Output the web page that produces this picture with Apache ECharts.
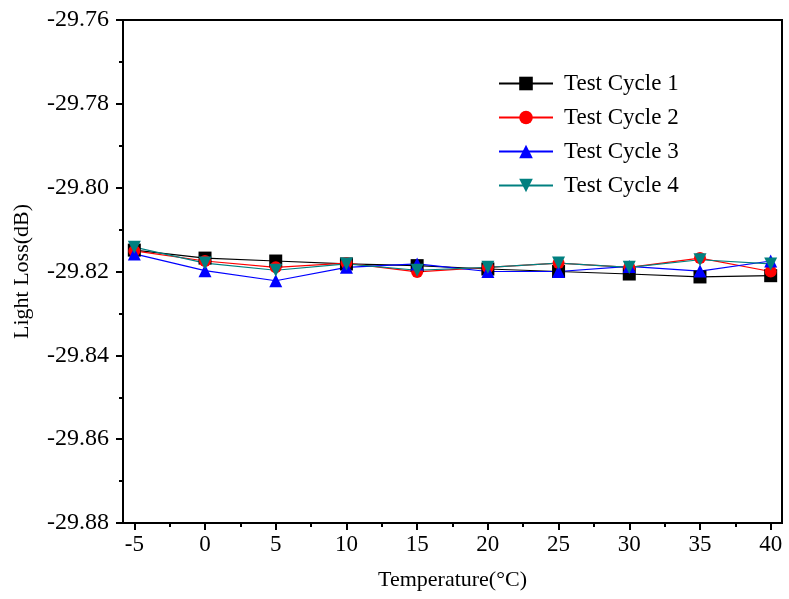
<!DOCTYPE html>
<html>
<head>
<meta charset="utf-8">
<script src="https://cdn.jsdelivr.net/npm/echarts@6/dist/echarts.min.js"></script>
<style>
  html, body { margin: 0; padding: 0; background: #fff; }
  #chart { width: 789px; height: 599px; }
</style>
</head>
<body>
<div id="chart"></div>
<script>
// temperature steps (°C)
var temps = [-5, 0, 5, 10, 15, 20, 25, 30, 35, 40]
var majorTicks = [-5, 0, 5, 10, 15, 20, 25, 30, 35, 40]
var minorTicks = [-2.5, 2.5, 7.5, 12.5, 17.5, 22.5, 27.5, 32.5, 37.5]

// light loss (dB) per test cycle
var cycle1 = [-29.8149, -29.8168, -29.8175, -29.8182, -29.8186, -29.8194, -29.8200, -29.8206, -29.8213, -29.8210]
var cycle2 = [-29.8151, -29.8175, -29.8190, -29.8180, -29.8201, -29.8190, -29.8180, -29.8190, -29.8168, -29.8200]
var cycle3 = [-29.8158, -29.8198, -29.8222, -29.8190, -29.8182, -29.8200, -29.8200, -29.8188, -29.8199, -29.8175]
var cycle4 = [-29.8142, -29.8180, -29.8197, -29.8182, -29.8197, -29.8190, -29.8180, -29.8190, -29.8172, -29.8182]

var seriesNames = ['Test Cycle 1', 'Test Cycle 2', 'Test Cycle 3', 'Test Cycle 4']

var FONT = '"Liberation Serif", "Times New Roman", serif'

function pairs(ys) {
  return temps.map(function (t, i) { return [t, ys[i]] })
}

function makeSeries(name, ys, color, symbol, rotate) {
  return {
    name: name,
    type: 'line',
    data: pairs(ys),
    symbol: symbol,
    symbolSize: symbol === 'circle' ? 12 : 13,
    symbolRotate: rotate || 0,
    itemStyle: { color: color },
    lineStyle: { color: color, width: 1.2 },
    emphasis: { disabled: true },
    animation: false
  }
}

var chart = echarts.init(document.getElementById('chart'))
chart.setOption({
  backgroundColor: '#fff',
  grid: {
    left: 123, right: 7, top: 20, bottom: 76,
    show: true, borderColor: '#000', borderWidth: 2
  },
  legend: {
    data: seriesNames,
    orient: 'vertical',
    left: 493, top: 67,
    itemWidth: 54, itemHeight: 17, itemGap: 11,
    textStyle: { fontFamily: FONT, fontSize: 23, color: '#000', lineHeight: 23, padding: [0, 0, 0, 6] }
  },
  xAxis: [{
    type: 'value',
    min: -5.8, max: 40.8,
    name: 'Temperature(°C)',
    nameLocation: 'middle',
    nameGap: 46,
    nameTextStyle: { fontFamily: FONT, fontSize: 22, color: '#000' },
    axisLine: { show: true, onZero: false, lineStyle: { color: '#000', width: 2 } },
    axisTick: { show: true, length: 7, lineStyle: { width: 2 }, customValues: majorTicks },
    axisLabel: { fontFamily: FONT, fontSize: 23, color: '#000', margin: 10, customValues: majorTicks },
    splitLine: { show: false }
  }, {
    type: 'value',
    min: -5.8, max: 40.8,
    position: 'bottom',
    axisLine: { show: false, onZero: false },
    axisTick: { show: true, length: 4, lineStyle: { color: '#000', width: 2 }, customValues: minorTicks },
    axisLabel: { show: false },
    splitLine: { show: false }
  }],
  yAxis: {
    type: 'value',
    min: -29.88, max: -29.76,
    interval: 0.02,
    name: 'Light Loss(dB)',
    nameLocation: 'middle',
    nameGap: 90,
    nameTextStyle: { fontFamily: FONT, fontSize: 22, color: '#000' },
    axisLine: { show: true, onZero: false, lineStyle: { color: '#000', width: 2 } },
    axisTick: { show: true, length: 7, lineStyle: { width: 2 } },
    minorTick: { show: true, splitNumber: 2, length: 4, lineStyle: { color: '#000', width: 2 } },
    axisLabel: {
      fontFamily: FONT, fontSize: 24, color: '#000', margin: 14,
      formatter: function (v) { return v.toFixed(2) }
    },
    splitLine: { show: false }
  },
  series: [
    makeSeries(seriesNames[0], cycle1, '#000000', 'rect'),
    makeSeries(seriesNames[1], cycle2, '#ff0000', 'circle'),
    makeSeries(seriesNames[2], cycle3, '#0000ff', 'triangle'),
    makeSeries(seriesNames[3], cycle4, '#008080', 'triangle', 180)
  ]
})
</script>
</body>
</html>
